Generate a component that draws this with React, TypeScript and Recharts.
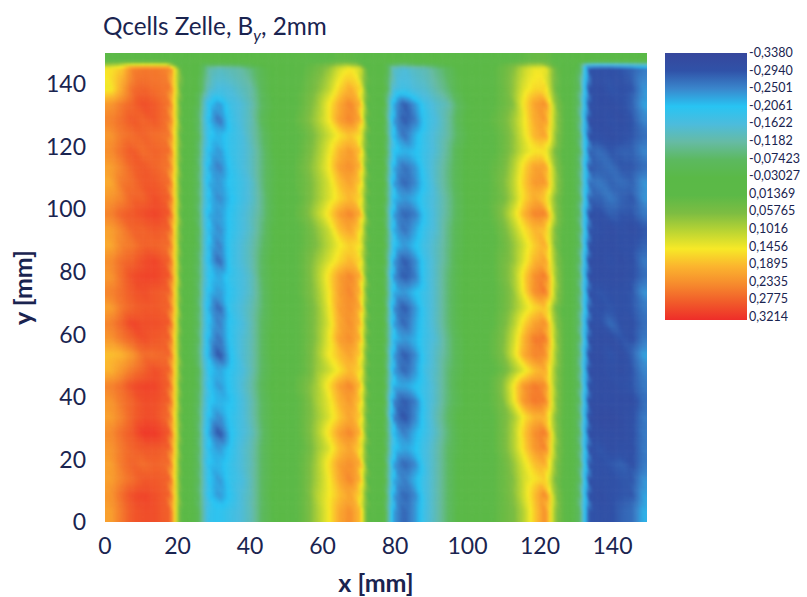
import { Scatter, ScatterChart, XAxis, YAxis } from "recharts"

const CHART_W = 807
const CHART_H = 597
const MARGIN = { top: 53, right: 160, bottom: 0, left: 0 }
const Y_AXIS_W = 105
const X_AXIS_H = 75
const PLOT_W = CHART_W - MARGIN.right - Y_AXIS_W
const PLOT_H = CHART_H - MARGIN.top - X_AXIS_H

const INK = "#1a2450"
const FONT = "Lato, 'Open Sans', sans-serif"

const xTicks = [0, 20, 40, 60, 80, 100, 120, 140]
const yTicks = [0, 20, 40, 60, 80, 100, 120, 140]
const xDomain = [0, 149.5]
const yDomain = [0, 150]

// column centres in mm, closer together at the sharp band edges
const colX = [
  1.5, 4.5, 7.5, 10.5, 13.5, 18, 19.5, 21, 25.5, 28.5,
  31.5, 34.5, 37.5, 40.5, 43.5, 46.5, 49.5, 52.5, 55.5, 58.5,
  61.5, 64.5, 67.5, 70.5, 72.5, 77, 79.5, 82.5, 85.5, 88.5,
  91.5, 94.5, 97.5, 100.5, 103.5, 106.5, 109.5, 112.5, 115.5, 118.5,
  121.5, 124.5, 127.5, 131, 133.5, 136.5, 139.5, 142.5, 145.5, 148.5,
]

// row centres in mm, top to bottom
const rowY = [
  147.5, 145, 138.5, 133.5, 128.5, 123.5, 118.5, 113.5, 108.5, 103.5,
  98.5, 93.5, 88.5, 83.5, 78.5, 73.5, 68.5, 63.5, 58.5, 53.5,
  48.5, 43.5, 38.5, 33.5, 28.5, 23.5, 18.5, 13.5, 8.5, 3.5,
]

// By in hundredths, one list per row of rowY
const fieldRows = [
  [1,1,1,1,1,1,1,0,0,-1, -2,-2,-1,-1,0,0,0,0,1,1, 1,2,2,1,0,0,-2,-3,-2,-2, -1,-1,0,0,0,0,1,1,2,3, 3,1,0,0,-3,-3,-3,-3,-3,-3],
  [15,17,24,25,25,24,13,2,-2,-12, -14,-13,-12,-9,-5,-2,-1,0,2,4, 7,12,15,12,1,-2,-14,-16,-14,-13, -10,-7,-3,-1,0,1,3,6,11,14, 14,3,0,-6,-29,-30,-30,-29,-28,-26],
  [14,20,26,27,26,25,14,2,-3,-14, -17,-16,-14,-12,-6,-2,-1,1,3,6, 10,16,20,16,1,-2,-16,-18,-16,-15, -12,-9,-4,-2,0,1,3,7,13,16, 16,3,0,-8,-30,-31,-29,-30,-29,-24],
  [22,25,27,29,28,25,13,1,-5,-20, -24,-18,-16,-13,-7,-3,-1,1,4,8, 14,20,24,19,1,-3,-22,-29,-24,-18, -15,-13,-7,-3,-1,1,3,6,15,21, 23,6,0,-9,-30,-31,-31,-30,-28,-23],
  [24,26,28,27,28,25,14,1,-6,-21, -27,-19,-16,-13,-6,-2,0,2,5,9, 14,21,24,20,1,-3,-23,-29,-26,-19, -16,-12,-6,-2,0,2,4,8,14,20, 22,7,0,-9,-31,-31,-30,-31,-29,-25],
  [22,25,26,27,26,25,13,1,-5,-20, -22,-19,-17,-13,-8,-3,-1,1,3,7, 11,15,18,15,1,-2,-21,-27,-22,-18, -15,-12,-7,-3,-1,1,3,7,13,19, 21,6,0,-8,-30,-30,-31,-30,-29,-27],
  [23,26,28,26,27,26,13,2,-6,-21, -24,-19,-17,-14,-9,-3,-1,1,4,8, 13,19,22,18,1,-2,-20,-22,-21,-18, -15,-11,-5,-2,0,1,3,7,12,15, 15,4,0,-7,-28,-27,-29,-28,-28,-25],
  [21,24,27,28,27,25,14,1,-6,-22, -26,-20,-17,-14,-9,-4,-1,2,5,9, 14,21,23,19,1,-2,-22,-27,-24,-18, -14,-10,-5,-2,0,2,4,9,16,21, 21,6,0,-8,-29,-28,-27,-29,-29,-27],
  [20,25,26,28,28,26,13,1,-6,-22, -24,-20,-18,-15,-9,-4,-1,2,4,8, 12,18,21,17,1,-2,-23,-28,-25,-19, -14,-10,-5,-2,0,2,5,10,17,22, 22,7,0,-8,-27,-26,-28,-27,-28,-24],
  [22,24,27,27,29,27,14,1,-6,-21, -25,-21,-18,-15,-10,-4,-1,1,4,8, 12,16,19,16,1,-2,-21,-24,-22,-18, -15,-11,-6,-2,0,2,4,9,16,20, 17,5,0,-7,-28,-28,-26,-28,-29,-24],
  [24,27,28,29,30,28,14,1,-6,-22, -24,-20,-17,-14,-10,-4,-1,2,5,10, 15,21,24,20,1,-3,-23,-28,-26,-19, -15,-11,-6,-2,0,2,6,12,19,24, 24,6,0,-8,-30,-30,-28,-29,-29,-26],
  [21,24,27,27,28,27,13,2,-5,-21, -25,-20,-17,-14,-9,-3,-1,1,3,7, 11,18,21,16,1,-2,-22,-27,-23,-18, -15,-10,-5,-2,0,1,4,9,15,19, 18,4,0,-7,-29,-30,-31,-30,-31,-29],
  [20,24,25,27,27,26,14,1,-5,-21, -26,-19,-16,-13,-8,-3,-1,1,3,6, 10,14,17,15,1,-2,-20,-24,-21,-17, -14,-10,-5,-2,0,1,3,7,12,17, 20,4,0,-7,-30,-31,-31,-30,-30,-28],
  [23,26,27,29,30,27,14,1,-6,-21, -28,-19,-16,-13,-7,-2,-1,1,4,8, 12,16,19,16,1,-2,-23,-29,-25,-18, -14,-10,-4,-2,0,1,4,7,13,19, 21,6,0,-8,-31,-31,-30,-31,-30,-26],
  [22,26,29,30,30,28,15,1,-6,-20, -23,-19,-17,-14,-7,-3,-1,1,4,9, 15,21,24,20,1,-3,-24,-29,-26,-18, -14,-9,-4,-2,0,1,4,8,16,23, 25,7,0,-8,-31,-31,-31,-31,-30,-27],
  [24,26,28,29,28,27,14,1,-6,-21, -24,-20,-17,-14,-8,-3,-1,1,4,8, 14,21,24,19,1,-2,-22,-24,-21,-18, -14,-9,-4,-2,0,1,3,7,15,23, 25,7,0,-8,-30,-29,-30,-30,-29,-24],
  [21,25,27,28,28,27,15,1,-6,-22, -28,-19,-16,-13,-8,-3,-1,1,3,7, 13,21,23,20,1,-2,-24,-29,-24,-18, -14,-9,-4,-2,0,1,3,7,12,16, 18,4,0,-8,-29,-30,-29,-30,-29,-26],
  [24,27,30,29,29,28,14,1,-6,-21, -26,-20,-17,-13,-7,-3,-1,1,3,7, 12,20,23,19,1,-2,-23,-28,-23,-18, -14,-9,-4,-2,0,1,4,9,16,21, 23,6,0,-9,-30,-30,-27,-30,-30,-27],
  [22,25,27,29,28,27,13,1,-6,-22, -27,-20,-16,-13,-7,-2,-1,1,3,7, 13,21,23,19,1,-2,-21,-24,-22,-18, -15,-10,-5,-2,0,2,5,11,19,25, 25,7,0,-8,-30,-31,-31,-29,-30,-26],
  [18,19,22,26,26,27,14,1,-7,-22, -30,-21,-16,-13,-7,-2,-1,1,3,8, 14,18,21,17,1,-2,-23,-29,-25,-18, -14,-10,-5,-2,0,2,5,12,20,24, 23,7,0,-9,-31,-31,-29,-31,-28,-23],
  [19,22,25,27,29,27,14,2,-5,-20, -23,-20,-17,-13,-7,-3,-1,1,3,8, 11,15,19,16,1,-2,-23,-28,-24,-17, -14,-9,-5,-2,0,1,3,8,13,18, 20,6,0,-9,-31,-31,-30,-31,-29,-25],
  [24,26,29,30,30,27,14,1,-5,-20, -24,-20,-16,-12,-6,-2,0,2,5,9, 15,21,24,18,1,-2,-22,-23,-21,-18, -14,-9,-4,-1,0,2,6,14,22,25, 23,6,0,-8,-30,-31,-31,-30,-29,-26],
  [22,25,27,29,29,27,14,1,-6,-20, -22,-21,-17,-13,-7,-3,-1,1,4,9, 13,19,22,17,1,-2,-25,-29,-26,-18, -14,-9,-5,-2,0,2,5,13,22,25, 24,6,0,-8,-31,-31,-31,-31,-31,-27],
  [21,24,27,29,29,26,13,1,-6,-21, -25,-20,-17,-13,-7,-3,-1,1,4,8, 12,17,21,17,1,-2,-25,-30,-25,-18, -13,-8,-3,-1,0,1,4,8,15,19, 19,5,0,-8,-31,-32,-32,-31,-30,-26],
  [23,26,28,31,31,28,14,2,-6,-22, -30,-21,-17,-14,-8,-3,-1,1,4,9, 15,21,24,19,1,-2,-21,-26,-22,-18, -14,-9,-4,-1,0,1,4,9,17,23, 25,6,0,-8,-31,-31,-31,-31,-30,-26],
  [22,25,27,28,28,27,14,1,-6,-21, -24,-20,-16,-13,-7,-3,-1,1,3,8, 12,18,21,16,1,-2,-20,-23,-21,-17, -13,-8,-4,-1,0,1,4,9,16,22, 24,6,0,-8,-30,-29,-31,-30,-30,-26],
  [21,25,27,26,27,26,13,1,-6,-21, -22,-19,-16,-13,-7,-3,-1,1,4,9, 15,21,23,20,1,-2,-23,-28,-25,-17, -13,-8,-3,-1,0,1,3,7,13,18, 20,5,0,-7,-29,-30,-29,-28,-30,-26],
  [21,24,26,28,28,27,13,1,-6,-20, -24,-19,-17,-13,-7,-3,-1,1,4,9, 14,20,24,19,1,-2,-22,-26,-22,-17, -13,-8,-3,-1,0,1,3,6,12,15, 17,4,0,-7,-30,-30,-30,-29,-29,-24],
  [22,26,29,30,29,27,14,1,-6,-20, -24,-20,-16,-13,-7,-2,-1,1,4,10, 14,18,21,16,1,-2,-23,-28,-25,-17, -13,-8,-3,-1,0,1,3,6,12,18, 24,6,0,-8,-30,-31,-30,-29,-29,-23],
  [21,25,28,29,29,27,14,1,-5,-19, -20,-18,-16,-13,-7,-3,-1,1,4,9, 14,20,23,18,1,-2,-23,-28,-24,-17, -13,-8,-3,-1,0,1,3,5,10,17, 23,6,0,-8,-29,-30,-30,-28,-27,-22],
]

// colour bar, top to bottom
const legendLabels = [
  "-0,3380", "-0,2940", "-0,2501", "-0,2061", "-0,1622", "-0,1182", "-0,07423", "-0,03027",
  "0,01369", "0,05765", "0,1016", "0,1456", "0,1895", "0,2335", "0,2775", "0,3214",
]
const legendValues = [
  -0.338, -0.294, -0.2501, -0.2061, -0.1622, -0.1182, -0.07423, -0.03027,
  0.01369, 0.05765, 0.1016, 0.1456, 0.1895, 0.2335, 0.2775, 0.3214,
]
const legendColors = [
  "#36479c", "#3052a8", "#3a86cc", "#28c4f3", "#4cbcdc", "#66bba4", "#5cb95f", "#5ab947",
  "#5cb947", "#7dbd42", "#b9d433", "#f7e927", "#fbb42e", "#f68a2d", "#f15b2a", "#ee2d29",
]

const cells = fieldRows.flatMap((row, r) =>
  row.map((v, c) => ({ x: colX[c], y: rowY[r], by: v / 100, r, c }))
)

const legendRgb = legendColors.map((hex) => [1, 3, 5].map((i) => parseInt(hex.slice(i, i + 2), 16)))

function colorFor(value: number) {
  if (value <= legendValues[0]) return legendColors[0]
  for (let i = 1; i < legendValues.length; i++) {
    if (value <= legendValues[i]) {
      const t = (value - legendValues[i - 1]) / (legendValues[i] - legendValues[i - 1])
      const a = legendRgb[i - 1]
      const b = legendRgb[i]
      return `rgb(${Math.round(a[0] + (b[0] - a[0]) * t)},${Math.round(a[1] + (b[1] - a[1]) * t)},${Math.round(a[2] + (b[2] - a[2]) * t)})`
    }
  }
  return legendColors[legendColors.length - 1]
}

// the measuring tool's contour shading: linear along a row
function sampleRow(r: number, xMm: number) {
  const row = fieldRows[r]
  if (xMm <= colX[0]) return row[0]
  for (let c = 1; c < colX.length; c++) {
    if (xMm <= colX[c]) {
      const t = (xMm - colX[c - 1]) / (colX[c] - colX[c - 1])
      return row[c - 1] + (row[c] - row[c - 1]) * t
    }
  }
  return row[row.length - 1]
}

// streaks in the scan run from top left to bottom right, so rows are joined on a slant
const SLANT_MM = 1.8
const MM_X = PLOT_W / (xDomain[1] - xDomain[0])
const MM_Y = PLOT_H / (yDomain[1] - yDomain[0])

function shadeAt(r: number, xMm: number, yMm: number) {
  if (r === rowY.length - 1) return sampleRow(r, xMm)
  const v = Math.min(1, Math.max(0, (rowY[r] - yMm) / (rowY[r] - rowY[r + 1])))
  return (1 - v) * sampleRow(r, xMm - SLANT_MM * v) + v * sampleRow(r + 1, xMm + SLANT_MM * (1 - v))
}

function HeatCell(props: any) {
  const { cx, cy, payload } = props
  if (cx == null || cy == null) return null
  const { r, c, x, y } = payload
  const xEnd = c === colX.length - 1 ? xDomain[1] + 3 : colX[c + 1]
  const xStart = c === 0 ? xDomain[0] - 3 : x
  const yEnd = r === rowY.length - 1 ? yDomain[0] - 3 : rowY[r + 1]
  const yStart = r === 0 ? yDomain[1] + 3 : y
  const nx = Math.max(1, Math.ceil(((xEnd - xStart) * MM_X) / 3))
  const ny = Math.max(1, Math.ceil(((yStart - yEnd) * MM_Y) / 3))
  const parts = []
  for (let i = 0; i < nx; i++) {
    for (let j = 0; j < ny; j++) {
      const x0 = xStart + ((xEnd - xStart) * i) / nx
      const x1 = xStart + ((xEnd - xStart) * (i + 1)) / nx
      const y0 = yStart + ((yEnd - yStart) * j) / ny
      const y1 = yStart + ((yEnd - yStart) * (j + 1)) / ny
      const value = shadeAt(r, (x0 + x1) / 2, (y0 + y1) / 2) / 100
      parts.push(
        <rect
          key={`${i}-${j}`}
          x={cx + (x0 - x) * MM_X}
          y={cy + (y - y0) * MM_Y}
          width={(x1 - x0) * MM_X + 0.6}
          height={(y0 - y1) * MM_Y + 0.6}
          fill={colorFor(value)}
        />
      )
    }
  }
  return <g>{parts}</g>
}

function ColorBar() {
  const x = 665
  const top = 53
  const h = 267
  const labelStep = 17.6
  return (
    <g>
      <defs>
        <linearGradient id="barFill" x1="0" y1="0" x2="0" y2="1">
          {legendColors.map((c, i) => (
            <stop key={c + i} offset={`${(i / (legendColors.length - 1)) * 100}%`} stopColor={c} />
          ))}
        </linearGradient>
      </defs>
      <rect x={x} y={top} width={82} height={h} fill="url(#barFill)" />
      {legendLabels.map((t, i) => (
        <text key={t} x={749} y={top + i * labelStep + 4} fontSize={12.5} fill={INK} fontFamily={FONT}>
          {t}
        </text>
      ))}
    </g>
  )
}

export default function App() {
  const tick = { fontSize: 23, fill: INK, fontFamily: FONT }
  const axisLabel = { fontSize: 25, fontWeight: 700, fill: INK, fontFamily: FONT }
  return (
    <div style={{ position: "absolute", left: 0, top: 0, width: CHART_W, height: CHART_H }}>
      <style>{`.recharts-scatter { filter: url(#heatBlur); }`}</style>
      <ScatterChart width={CHART_W} height={CHART_H} margin={MARGIN}>
        <defs>
          <filter id="heatBlur" filterUnits="userSpaceOnUse" x="0" y="0" width={CHART_W} height={CHART_H} colorInterpolationFilters="sRGB">
            <feGaussianBlur stdDeviation="0.9" />
          </filter>
        </defs>
        <XAxis
          type="number"
          dataKey="x"
          domain={xDomain}
          ticks={xTicks}
          allowDataOverflow
          height={X_AXIS_H}
          axisLine={false}
          tickLine={false}
          tickMargin={10}
          tick={tick}
          label={{ value: "x [mm]", position: "insideBottom", offset: 5, style: axisLabel }}
        />
        <YAxis
          type="number"
          dataKey="y"
          domain={yDomain}
          ticks={yTicks}
          allowDataOverflow
          width={Y_AXIS_W}
          axisLine={false}
          tickLine={false}
          tickMargin={13}
          tick={tick}
          label={{ value: "y [mm]", angle: -90, position: "insideLeft", offset: 23, style: { ...axisLabel, textAnchor: "middle" } }}
        />
        <Scatter data={cells} shape={HeatCell} isAnimationActive={false} />
        <text x={103} y={35} fontSize={24.3} fill={INK} fontFamily={FONT}>
          Qcells Zelle, B
          <tspan dy={6} fontSize={16} fontStyle="italic">y</tspan>
          <tspan dy={-6}>, 2mm</tspan>
        </text>
        <ColorBar />
      </ScatterChart>
    </div>
  )
}
